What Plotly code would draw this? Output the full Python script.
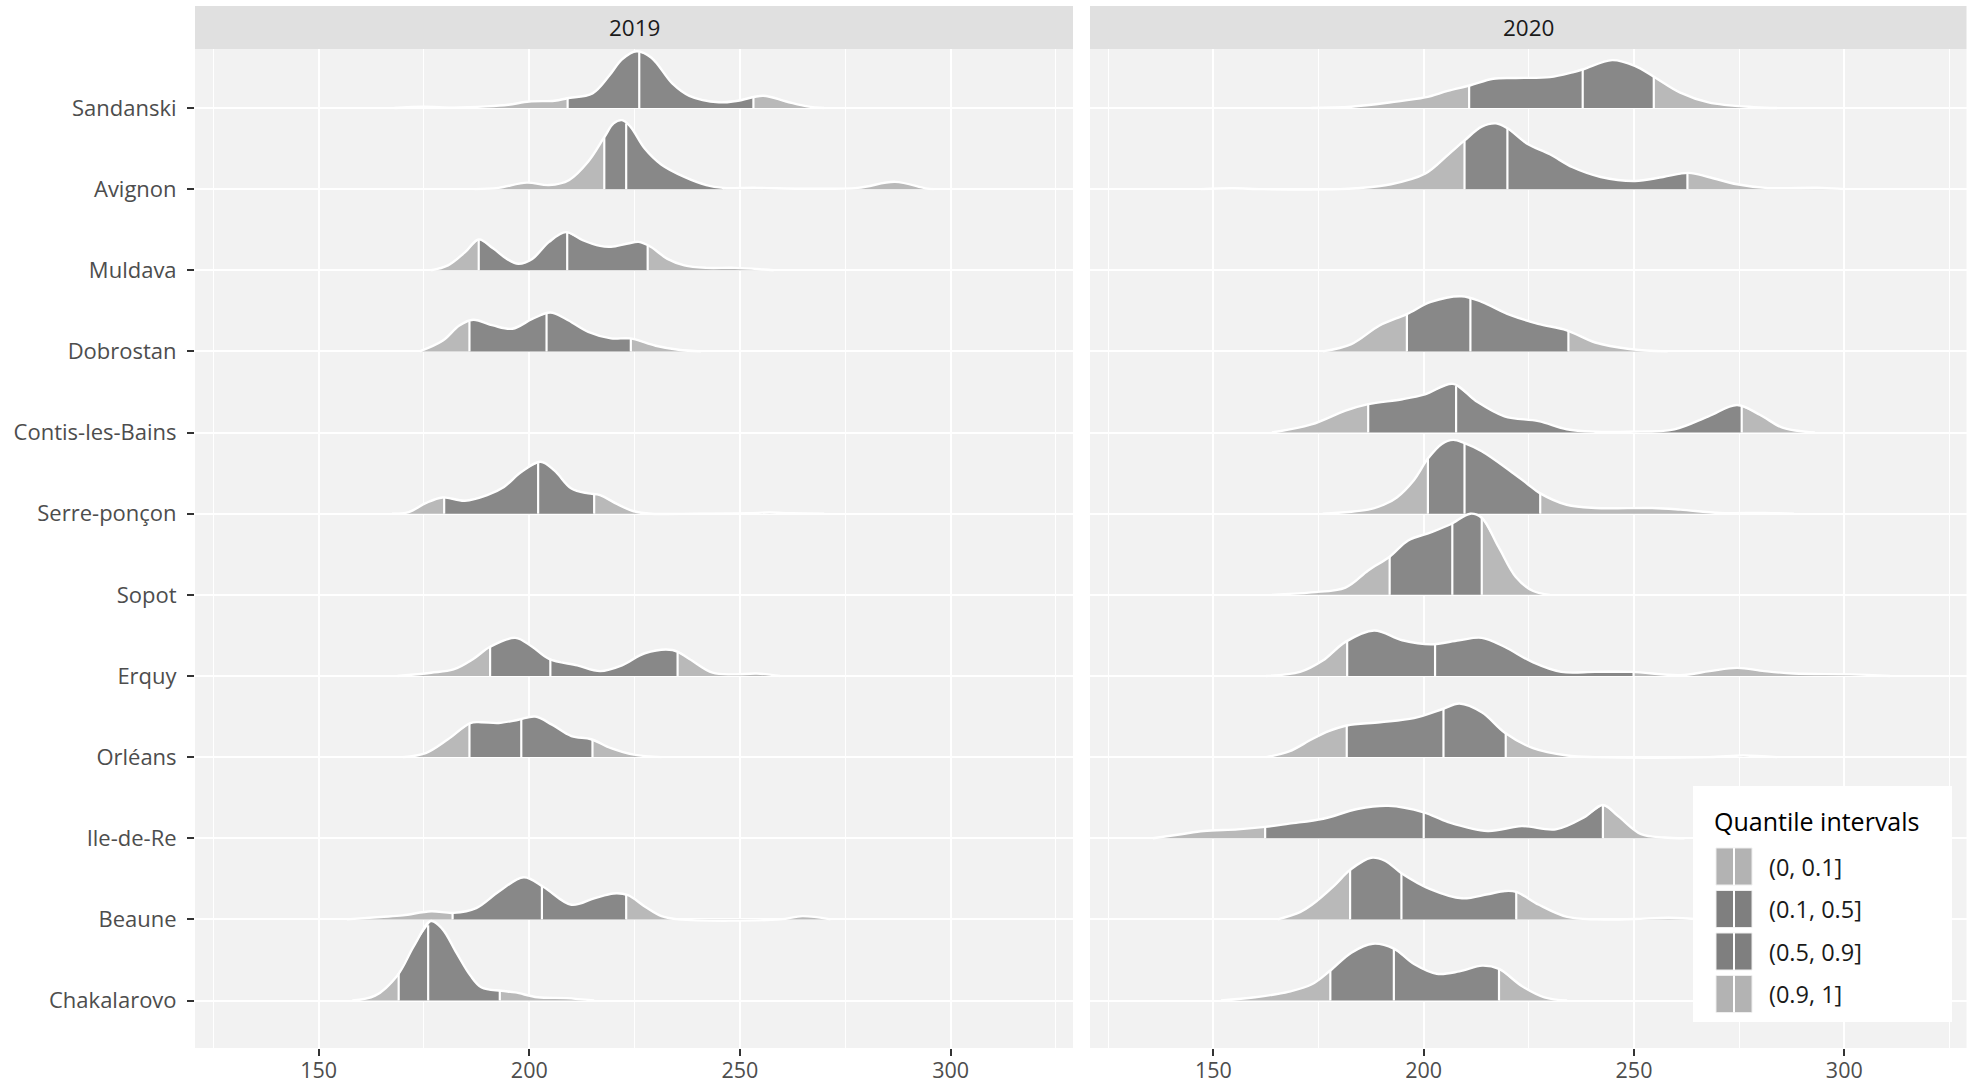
import numpy as np
import plotly.graph_objects as go

W, H = 1974, 1083

# ---------------- data ----------------
# categories, bottom row first
LOCATIONS = ["Chakalarovo", "Beaune", "Ile-de-Re", "Orléans", "Erquy", "Sopot",
             "Serre-ponçon", "Contis-les-Bains", "Dobrostan", "Muldava", "Avignon", "Sandanski"]
YEARS = ["2019", "2020"]
QUANTILE_LABELS = ["(0, 0.1]", "(0.1, 0.5]", "(0.5, 0.9]", "(0.9, 1]"]
X_TICKS = [150, 200, 250, 300]
X_MINOR = [125, 175, 225, 275, 325]

# density curves: (value, scaled density in row-height units) and quantiles 0.1/0.5/0.9
sandanski_2019 = [(168, 0), (175, 0.015), (182, 0.005), (190, 0.02), (195, 0.04), (200, 0.08), (206, 0.09),
                  (209, 0.12), (215, 0.18), (219, 0.40), (222, 0.60), (225.5, 0.70), (229, 0.62), (234, 0.30),
                  (238, 0.15), (245, 0.07), (249.5, 0.09), (255.5, 0.15), (261, 0.08), (266, 0.02), (270, 0)]
sandanski_2019_q = [209.1, 226.1, 253.2]

avignon_2019 = [(187, 0), (192.7, 0.016), (199.4, 0.08), (204.7, 0.05), (209.4, 0.11), (214, 0.34), (217.8, 0.64),
                (220, 0.81), (222, 0.85), (224, 0.77), (227.4, 0.50), (231.4, 0.30), (236.8, 0.15), (242, 0.05),
                (246, 0.016), (254, 0.016), (264.8, 0.005), (278, 0.016), (286.8, 0.09), (294, 0.01), (296, 0)]
avignon_2019_q = [217.8, 223.0, 246.0]

muldava_2019 = [(176.7, 0), (180.7, 0.06), (184.7, 0.22), (188, 0.38), (191.4, 0.27), (194.7, 0.14), (197.4, 0.08),
                (200.7, 0.14), (204.7, 0.35), (208.7, 0.47), (212.7, 0.37), (216.8, 0.30), (219.4, 0.29),
                (223.4, 0.33), (226, 0.35), (228.8, 0.29), (232.8, 0.14), (236.8, 0.06), (242, 0.03),
                (248.8, 0.03), (255.5, 0.01), (258, 0)]
muldava_2019_q = [188.0, 209.0, 228.1]

dobrostan_2019 = [(174, 0), (179.4, 0.13), (183.4, 0.32), (186.7, 0.39), (191.4, 0.32), (196, 0.28), (200.7, 0.40),
                  (205, 0.48), (208.7, 0.40), (214, 0.24), (219.4, 0.16), (224, 0.16), (230, 0.07), (235.4, 0.02),
                  (240.8, 0)]
dobrostan_2019_q = [185.8, 204.1, 224.1]

serre_2019 = [(167.4, 0), (171.4, 0.02), (175.4, 0.13), (179.4, 0.20), (184.7, 0.16), (190, 0.23), (194, 0.33),
              (198, 0.51), (202.7, 0.64), (206, 0.53), (210, 0.31), (214, 0.25), (216.8, 0.23), (220.8, 0.12),
              (224.8, 0.03), (229, 0.0), (240, 0), (252, 0.005), (257, 0.015), (262, 0.005), (270, 0)]
serre_2019_q = [179.8, 202.1, 215.4]

erquy_2019 = [(168.7, 0), (176.7, 0.04), (182, 0.08), (186.7, 0.21), (190.7, 0.36), (196.7, 0.47), (200.7, 0.36),
              (204.7, 0.21), (211.4, 0.13), (216.8, 0.06), (222, 0.13), (227.4, 0.28), (234, 0.32), (238, 0.21),
              (243.5, 0.04), (248.8, 0.02), (254, 0.03), (259.5, 0)]
erquy_2019_q = [190.7, 205.0, 235.2]

orleans_2019 = [(170, 0), (175.4, 0.05), (180.7, 0.22), (186, 0.42), (188.7, 0.43), (192.7, 0.42), (197.4, 0.46),
                (201.4, 0.50), (205.4, 0.40), (210, 0.26), (214.7, 0.22), (219.4, 0.11), (224.8, 0.03), (231.4, 0)]
orleans_2019_q = [185.8, 198.1, 215.0]

beaune_2019 = [(156.7, 0), (164.7, 0.03), (170, 0.05), (176.7, 0.10), (182, 0.08), (187.4, 0.14), (192.7, 0.34),
               (198.7, 0.52), (203.4, 0.40), (210, 0.18), (215.4, 0.26), (220, 0.32), (223.4, 0.30), (227.4, 0.16),
               (231.4, 0.04), (235.4, 0), (259.5, 0), (264.8, 0.04), (271.5, 0)]
beaune_2019_q = [181.8, 203.0, 223.0]

chakalarovo_2019 = [(158, 0), (163.4, 0.06), (168.7, 0.31), (172.7, 0.68), (176.7, 0.98), (179.4, 0.88),
                    (182.7, 0.59), (186, 0.31), (188.7, 0.16), (193.4, 0.12), (196.7, 0.10), (202, 0.04),
                    (208.7, 0.03), (215.4, 0)]
chakalarovo_2019_q = [169.0, 176.0, 193.0]

sandanski_2020 = [(173.3, 0), (182.8, 0.016), (192.2, 0.07), (200.3, 0.13), (205.7, 0.21), (211.1, 0.28),
                  (216.5, 0.36), (221.9, 0.37), (230, 0.38), (235.4, 0.44), (238.1, 0.48), (244.8, 0.59),
                  (250.2, 0.52), (254.9, 0.38), (261, 0.19), (267.7, 0.07), (278.5, 0.01), (284, 0)]
sandanski_2020_q = [210.8, 237.8, 254.7]

avignon_2020 = [(147, 0), (154.5, 0.01), (162, 0), (180, 0), (184, 0.01), (192.2, 0.06), (200.3, 0.19),
                (205.7, 0.42), (209.7, 0.60), (213.8, 0.77), (217.2, 0.81), (219.9, 0.75), (224.6, 0.56),
                (230, 0.43), (235.4, 0.27), (242.1, 0.15), (250.2, 0.10), (256.9, 0.15), (263, 0.20),
                (267.7, 0.15), (274.5, 0.06), (281.2, 0.016), (294.7, 0.016), (300, 0)]
avignon_2020_q = [209.7, 219.9, 262.7]

dobrostan_2020 = [(176, 0), (182.8, 0.09), (189.5, 0.32), (196, 0.46), (201.7, 0.61), (209, 0.68), (213.8, 0.61),
                  (220.5, 0.45), (227.2, 0.34), (234, 0.26), (240.8, 0.11), (248.9, 0.03), (258, 0)]
dobrostan_2020_q = [196.0, 211.1, 234.4]

contis_2020 = [(163.9, 0), (173.3, 0.10), (181.4, 0.27), (186.8, 0.35), (194.9, 0.41), (200.3, 0.47), (207, 0.60),
               (212.4, 0.39), (219.2, 0.20), (227.3, 0.14), (234, 0.04), (240.8, 0.01), (248.9, 0.01),
               (259.6, 0.04), (267.7, 0.20), (274.5, 0.34), (279.9, 0.22), (285.3, 0.06), (290.7, 0.01), (293, 0)]
contis_2020_q = [186.8, 207.7, 275.6]

serre_2020 = [(176, 0), (186.8, 0.05), (190.5, 0.11), (193.6, 0.20), (197.6, 0.41), (201, 0.68), (204.3, 0.86),
              (207, 0.91), (209.7, 0.87), (213.8, 0.77), (220.5, 0.53), (224.6, 0.37), (227.7, 0.25), (234, 0.11),
              (240.8, 0.07), (254.3, 0.07), (261, 0.05), (270.4, 0.01), (281.2, 0.01), (288, 0)]
serre_2020_q = [201.0, 209.7, 227.7]

sopot_2020 = [(163.9, 0), (173.3, 0.03), (181.4, 0.09), (186.8, 0.30), (191.9, 0.47), (196.3, 0.67), (201.7, 0.77),
              (206.4, 0.87), (211.1, 1.0), (213.8, 0.95), (217.8, 0.59), (221.9, 0.22), (225.9, 0.05), (230, 0)]
sopot_2020_q = [191.9, 206.8, 213.8]

erquy_2020 = [(162.5, 0), (170.6, 0.05), (176, 0.19), (181.4, 0.42), (188.2, 0.56), (194.9, 0.44), (201.7, 0.39),
              (208.4, 0.44), (213.8, 0.47), (219.2, 0.36), (225.9, 0.17), (232.7, 0.05), (240.8, 0.05),
              (249.5, 0.05), (261, 0.01), (268, 0.06), (274.5, 0.10), (281, 0.06), (288, 0.03), (301.4, 0.02),
              (310.9, 0)]
erquy_2020_q = [181.8, 202.7, 249.9]

orleans_2020 = [(162.6, 0), (168, 0.07), (173.4, 0.22), (177.4, 0.32), (181.7, 0.39), (189.6, 0.43), (197.7, 0.48),
                (204.4, 0.59), (208.5, 0.66), (213.9, 0.55), (219.3, 0.30), (226, 0.11), (234.1, 0.02),
                (240.9, 0), (267.9, 0), (276, 0.02), (284, 0)]
orleans_2020_q = [181.7, 204.7, 219.5]

ile_de_re_2020 = [(135.6, 0), (142.3, 0.05), (147.7, 0.09), (155.8, 0.11), (162.3, 0.14), (168, 0.18),
                  (176.1, 0.24), (184.2, 0.36), (191.6, 0.40), (200, 0.32), (205.8, 0.20), (215.2, 0.09),
                  (223.3, 0.15), (231.4, 0.11), (238.2, 0.26), (242.6, 0.41), (246.3, 0.27), (251.7, 0.05),
                  (257.1, 0.01), (262, 0)]
ile_de_re_2020_q = [162.3, 200.0, 242.6]

beaune_2020 = [(165.3, 0), (170.6, 0.09), (173.4, 0.18), (178.8, 0.42), (182.5, 0.61), (187.5, 0.76),
               (190.9, 0.72), (194.7, 0.57), (201.7, 0.37), (209.1, 0.26), (215.2, 0.31), (219.3, 0.35),
               (222, 0.34), (227.4, 0.18), (234.1, 0.03), (240.9, 0), (250, 0.005), (258.4, 0.02), (266, 0)]
beaune_2020_q = [182.5, 194.7, 222.0]

chakalarovo_2020 = [(151.8, 0), (159.9, 0.04), (168, 0.11), (173.4, 0.20), (177.8, 0.37), (182.8, 0.59),
                    (187.9, 0.70), (192.9, 0.64), (197.7, 0.45), (203.1, 0.33), (208.5, 0.36), (213.9, 0.43),
                    (217.9, 0.39), (223.3, 0.18), (228.7, 0.04), (234.1, 0)]
chakalarovo_2020_q = [177.8, 192.9, 217.9]

RIDGES = {
    "2019": {
        "Sandanski": (sandanski_2019, sandanski_2019_q),
        "Avignon": (avignon_2019, avignon_2019_q),
        "Muldava": (muldava_2019, muldava_2019_q),
        "Dobrostan": (dobrostan_2019, dobrostan_2019_q),
        "Serre-ponçon": (serre_2019, serre_2019_q),
        "Erquy": (erquy_2019, erquy_2019_q),
        "Orléans": (orleans_2019, orleans_2019_q),
        "Beaune": (beaune_2019, beaune_2019_q),
        "Chakalarovo": (chakalarovo_2019, chakalarovo_2019_q),
    },
    "2020": {
        "Sandanski": (sandanski_2020, sandanski_2020_q),
        "Avignon": (avignon_2020, avignon_2020_q),
        "Dobrostan": (dobrostan_2020, dobrostan_2020_q),
        "Contis-les-Bains": (contis_2020, contis_2020_q),
        "Serre-ponçon": (serre_2020, serre_2020_q),
        "Sopot": (sopot_2020, sopot_2020_q),
        "Erquy": (erquy_2020, erquy_2020_q),
        "Orléans": (orleans_2020, orleans_2020_q),
        "Ile-de-Re": (ile_de_re_2020, ile_de_re_2020_q),
        "Beaune": (beaune_2020, beaune_2020_q),
        "Chakalarovo": (chakalarovo_2020, chakalarovo_2020_q),
    },
}

# ---------------- styling ----------------
FONT = "Open Sans"
LIGHT, DARK = "#b9b9b9", "#888888"
KEY_LIGHT, KEY_DARK = "#b3b3b3", "#7f7f7f"
SEG_COLORS = [LIGHT, DARK, DARK, LIGHT]
KEY_COLORS = [KEY_LIGHT, KEY_DARK, KEY_DARK, KEY_LIGHT]
PANEL_BG = "#f2f2f2"
STRIP_BG = "#e0e0e0"
SMOOTH = 1.0

# pixel layout
PANEL_TOP, PANEL_BOTTOM = 49, 1048
PANELS_PX = [(195, 1073), (1090, 1966.5)]
X_RANGE = [120.66, 329.05]
Y_RANGE = [0.415, 12.727]


def px(x):
    return x / W


def py(y):
    return 1 - y / H


def segments(xs, hs, qs):
    bounds = [xs[0]] + list(qs) + [xs[-1]]
    out = []
    for lo, hi in zip(bounds[:-1], bounds[1:]):
        inner = (xs > lo) & (xs < hi)
        sx = np.concatenate([[lo], xs[inner], [hi]])
        sh = np.concatenate([[np.interp(lo, xs, hs)], hs[inner], [np.interp(hi, xs, hs)]])
        out.append((sx, sh))
    return out


fig = go.Figure()

for i, year in enumerate(YEARS):
    xa = "x" if i == 0 else "x2"
    ya = "y" if i == 0 else "y2"
    # draw from the top row down so lower ridges sit in front
    for loc in reversed(LOCATIONS):
        if loc not in RIDGES[year]:
            continue
        pts, qs = RIDGES[year][loc]
        base = LOCATIONS.index(loc) + 1
        xs = np.array([p[0] for p in pts], float)
        hs = np.array([p[1] for p in pts], float)
        for (sx, sh), col in zip(segments(xs, hs, qs), SEG_COLORS):
            fig.add_trace(go.Scatter(x=[sx[0], sx[-1]], y=[base, base], mode="lines",
                                     line=dict(width=0, color=col), xaxis=xa, yaxis=ya,
                                     showlegend=False, hoverinfo="skip"))
            fig.add_trace(go.Scatter(x=sx, y=base + sh, mode="lines",
                                     line=dict(width=0, color=col, shape="spline", smoothing=SMOOTH),
                                     fill="tonexty", fillcolor=col, xaxis=xa, yaxis=ya,
                                     showlegend=False, hoverinfo="skip"))
        vx, vy = [], []
        for q in qs:
            vx += [q, q, None]
            vy += [base, base + np.interp(q, xs, hs), None]
        fig.add_trace(go.Scatter(x=vx, y=vy, mode="lines", line=dict(width=2.2, color="white"),
                                 xaxis=xa, yaxis=ya, showlegend=False, hoverinfo="skip"))
        fig.add_trace(go.Scatter(x=xs, y=base + hs, mode="lines",
                                 line=dict(width=2.4, color="white", shape="spline", smoothing=SMOOTH),
                                 xaxis=xa, yaxis=ya, showlegend=False, hoverinfo="skip"))

axis_common = dict(
    range=X_RANGE, tickmode="array", tickvals=X_TICKS, ticks="outside", ticklen=7, tickwidth=1.6,
    tickcolor="#333333", showgrid=True, gridcolor="white", gridwidth=2.2, zeroline=False,
    showline=False, automargin=False, ticklabelstandoff=-4,
    tickfont=dict(family=FONT, size=21.5, color="#4d4d4d"),
    minor=dict(tickmode="array", tickvals=X_MINOR, showgrid=True, gridcolor="white", gridwidth=1.1, ticks=""),
)
yaxis_common = dict(
    range=Y_RANGE, domain=[py(PANEL_BOTTOM), py(PANEL_TOP)], tickmode="array",
    tickvals=list(range(1, len(LOCATIONS) + 1)), ticktext=LOCATIONS, showgrid=True, gridcolor="white",
    gridwidth=2.2, zeroline=False, showline=False, automargin=False,
    tickfont=dict(family=FONT, size=22, color="#4d4d4d"),
)

shapes, annotations = [], []
for i, (l, r) in enumerate(PANELS_PX):
    shapes.append(dict(type="rect", xref="paper", yref="paper", x0=px(l), x1=px(r), y0=py(PANEL_TOP),
                       y1=py(6), fillcolor=STRIP_BG, line=dict(width=0), layer="below"))
    annotations.append(dict(text=YEARS[i], xref="paper", yref="paper", x=px((l + r) / 2), y=py(27.5),
                            xanchor="center", yanchor="middle", showarrow=False,
                            font=dict(family=FONT, size=22.5, color="#1a1a1a")))

# legend (drawn manually to mimic the ggplot key glyphs)
shapes.append(dict(type="rect", xref="paper", yref="paper", x0=px(1693), x1=px(1952), y0=py(1022), y1=py(786),
                   fillcolor="white", line=dict(width=0), layer="above"))
annotations.append(dict(text="Quantile intervals", xref="paper", yref="paper", x=px(1712), y=py(821),
                        xanchor="left", yanchor="middle", showarrow=False,
                        font=dict(family=FONT, size=25, color="#000000")))
for k, (lab, col) in enumerate(zip(QUANTILE_LABELS, KEY_COLORS)):
    top = 848 + k * 42.5
    shapes.append(dict(type="rect", xref="paper", yref="paper", x0=px(1716), x1=px(1752), y0=py(top + 37),
                       y1=py(top), fillcolor=col, line=dict(width=1, color="#eeeeee"), layer="above"))
    shapes.append(dict(type="line", xref="paper", yref="paper", x0=px(1734), x1=px(1734), y0=py(top + 37),
                       y1=py(top), line=dict(width=2, color="white"), layer="above"))
    annotations.append(dict(text=lab, xref="paper", yref="paper", x=px(1767), y=py(top + 18.5),
                            xanchor="left", yanchor="middle", showarrow=False,
                            font=dict(family=FONT, size=23.5, color="#1a1a1a")))

fig.update_layout(
    template="none", width=W, height=H, autosize=False, margin=dict(l=0, r=0, t=0, b=0, pad=0),
    paper_bgcolor="white", plot_bgcolor=PANEL_BG, showlegend=False,
    xaxis=dict(axis_common, domain=[px(PANELS_PX[0][0]), px(PANELS_PX[0][1])], anchor="y"),
    xaxis2=dict(axis_common, domain=[px(PANELS_PX[1][0]), px(PANELS_PX[1][1])], anchor="y2"),
    yaxis=dict(yaxis_common, anchor="x", ticks="outside", ticklen=7, tickwidth=1.6, tickcolor="#333333",
               ticklabelstandoff=6),
    yaxis2=dict(yaxis_common, anchor="x2", showticklabels=False, ticks=""),
    shapes=shapes, annotations=annotations,
)

fig.write_html("out.html")
